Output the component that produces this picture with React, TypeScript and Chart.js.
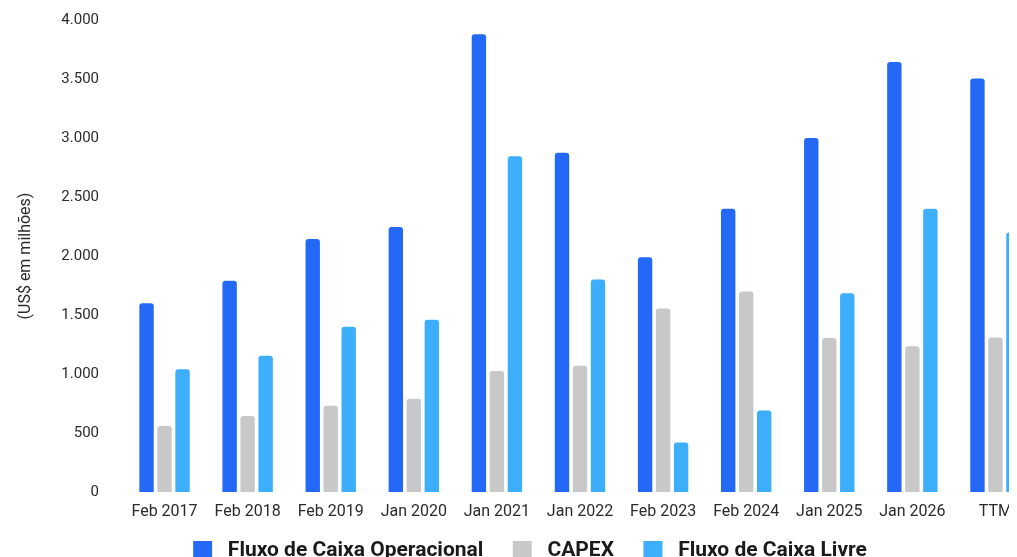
import React, { useEffect, useRef } from "react";
import { Chart, registerables } from "chart.js";

Chart.register(...registerables);

const categories = [
  "Feb 2017",
  "Feb 2018",
  "Feb 2019",
  "Jan 2020",
  "Jan 2021",
  "Jan 2022",
  "Feb 2023",
  "Feb 2024",
  "Jan 2025",
  "Jan 2026",
  "TTM",
];
const fluxoOperacional = [1600, 1790, 2145, 2245, 3880, 2875, 1990, 2400, 3000, 3645, 3505];
const capex = [560, 645, 730, 790, 1025, 1070, 1555, 1700, 1305, 1235, 1310];
const fluxoLivre = [1040, 1155, 1400, 1460, 2845, 1800, 420, 690, 1685, 2400, 2200];
const seriesNames = ["Fluxo de Caixa Operacional", "CAPEX", "Fluxo de Caixa Livre"];
const axisTitle = "(US$ em milhões)";

const fmt = (v: number) => String(v).replace(/\B(?=(\d{3})+(?!\d))/g, ".");

export default function App() {
  const ref = useRef<HTMLCanvasElement | null>(null);
  useEffect(() => {
    if (!ref.current) return;
    const font = "Roboto";
    const chart = new Chart(ref.current, {
      type: "bar",
      data: {
        labels: categories,
        datasets: [
          { label: seriesNames[0], data: fluxoOperacional, backgroundColor: "#2469F5" },
          { label: seriesNames[1], data: capex, backgroundColor: "#C8C8C8" },
          { label: seriesNames[2], data: fluxoLivre, backgroundColor: "#3DAEFB" },
        ].map((d) => ({
          ...d,
          borderRadius: 3,
          categoryPercentage: 0.65,
          barPercentage: 0.8,
        })),
      },
      options: {
        responsive: false,
        animation: false,
        layout: { padding: { top: 12, right: 13, left: 15, bottom: 0 } },
        plugins: {
          tooltip: { enabled: false },
          legend: {
            position: "bottom",
            labels: {
              boxWidth: 19,
              boxHeight: 19,
              padding: 19,
              color: "#1a1a1a",
              font: { family: font, size: 21, weight: "bold" },
              generateLabels: (c: any) =>
                Chart.defaults.plugins.legend.labels
                  .generateLabels(c)
                  .map((l: any, i: number, arr: any[]) => ({
                    ...l,
                    text: " " + l.text + (i < arr.length - 1 ? "  " : ""),
                  })),
            },
          },
        },
        scales: {
          x: {
            grid: { display: false, drawTicks: false },
            border: { display: false },
            ticks: { color: "#2b2b2b", padding: 10, maxRotation: 0, font: { family: font, size: 16 } },
            afterFit: (s: any) => {
              s.height = 29;
            },
          },
          y: {
            min: 0,
            max: 4000,
            grid: { display: false, drawTicks: false },
            border: { display: false },
            ticks: {
              stepSize: 500,
              color: "#2b2b2b",
              padding: 24,
              font: { family: font, size: 15 },
              callback: (v: any) => fmt(Number(v)),
            },
            title: {
              display: true,
              text: axisTitle,
              color: "#2b2b2b",
              font: { family: font, size: 16 },
              padding: { top: -7, bottom: 0 },
            },
            afterFit: (s: any) => {
              s.width = 100;
              s.paddingTop = 0;
            },
          },
        },
      },
    });
    return () => chart.destroy();
  }, []);
  return (
    <div style={{ width: 1042, height: 563 }}>
      <canvas ref={ref} width={1042} height={563} />
    </div>
  );
}
